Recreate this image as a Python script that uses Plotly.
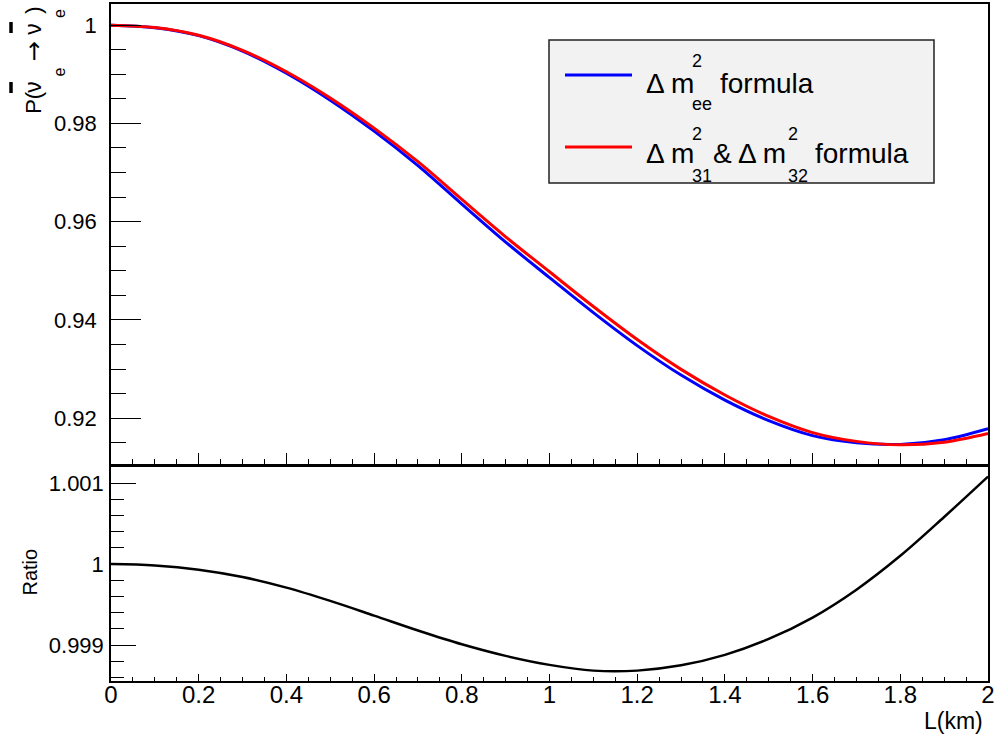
import numpy as np
import plotly.graph_objects as go

# ---------------- data ----------------
L_km = [0.0, 0.1, 0.2, 0.3, 0.4, 0.5, 0.6, 0.7, 0.8, 0.9, 1.0,
        1.1, 1.2, 1.3, 1.4, 1.5, 1.6, 1.7, 1.8, 1.9, 2.0]

P_ee_formula = [1.00000, 0.99949, 0.99786, 0.99471, 0.99023, 0.98474, 0.97843,
                0.97141, 0.96358, 0.95585, 0.94863, 0.94150, 0.93479, 0.92879,
                0.92370, 0.91953, 0.91648, 0.91501, 0.91469, 0.91566, 0.91790]

P_31_32_formula = [1.00000, 0.99951, 0.99793, 0.99487, 0.99052, 0.98519, 0.97905,
                   0.97221, 0.96453, 0.95693, 0.94981, 0.94274, 0.93602, 0.92995,
                   0.92474, 0.92038, 0.91709, 0.91530, 0.91460, 0.91513, 0.91691]

ratio = [1.000000, 0.999982, 0.999930, 0.999840, 0.999709, 0.999545, 0.999364,
         0.999180, 0.999010, 0.998867, 0.998756, 0.998685, 0.998685, 0.998750,
         0.998879, 0.999076, 0.999340, 0.999684, 1.000102, 1.000581, 1.001079]

x_ticks = [0.0, 0.2, 0.4, 0.6, 0.8, 1.0, 1.2, 1.4, 1.6, 1.8, 2.0]
x_ticktext = ["0", "0.2", "0.4", "0.6", "0.8", "1", "1.2", "1.4", "1.6", "1.8", "2"]
top_ticks = [0.92, 0.94, 0.96, 0.98, 1.0]
top_ticktext = ["0.92", "0.94", "0.96", "0.98", "1"]
bot_ticks = [0.999, 1.0, 1.001]
bot_ticktext = ["0.999", "1", "1.001"]

# ---------------- layout helpers ----------------
W, H = 994, 738
ML, MR, MT, MB = 111, 6, 4, 57
PW, PH = W - ML - MR, H - MT - MB


def px2x(px):
    return (px - ML) / PW


def px2y(py):
    return 1 - (py - MT) / PH


FONT = "Liberation Sans, Arial, Helvetica, sans-serif"

fig = go.Figure()
fig.add_trace(go.Scatter(x=L_km, y=P_ee_formula, mode="lines",
                         line=dict(color="#0000ff", width=3, shape="spline"),
                         xaxis="x", yaxis="y", name="Δm²ee formula"))
fig.add_trace(go.Scatter(x=L_km, y=P_31_32_formula, mode="lines",
                         line=dict(color="#ff0000", width=3, shape="spline"),
                         xaxis="x", yaxis="y", name="Δm²31 & Δm²32 formula"))
fig.add_trace(go.Scatter(x=L_km, y=ratio, mode="lines",
                         line=dict(color="#000000", width=2.5, shape="spline"),
                         xaxis="x2", yaxis="y2", name="Ratio"))

top_minor = [round(v, 4) for v in np.arange(0.915, 1.0041, 0.005)]
bot_minor = [round(v, 5) for v in np.arange(0.9986, 1.00121, 0.0002)]
x_minor = [round(v, 3) for v in np.arange(0.0, 2.001, 0.05)]

common_axis = dict(showline=True, linecolor="black", linewidth=1.5, mirror=True,
                   showgrid=False, zeroline=False, ticks="inside",
                   tickcolor="black", tickwidth=1, automargin=False,
                   tickfont=dict(family=FONT, size=22, color="black"))

fig.update_layout(
    width=W, height=H,
    margin=dict(l=ML, r=MR, t=MT, b=MB, autoexpand=False),
    paper_bgcolor="white", plot_bgcolor="white",
    showlegend=False,
    font=dict(family=FONT, color="black"),
    xaxis=dict(common_axis, domain=[0, 1], range=[0, 2], anchor="y",
               showticklabels=False, ticklen=12, tickmode="array",
               tickvals=x_ticks,
               minor=dict(ticks="inside", ticklen=6, tickmode="array",
                          tickvals=x_minor, tickcolor="black", tickwidth=1)),
    yaxis=dict(common_axis, domain=[0.3191, 1], range=[0.9105, 1.0043],
               anchor="x", tickmode="array", tickvals=top_ticks,
               ticktext=top_ticktext, ticklen=30, ticklabelstandoff=8,
               minor=dict(ticks="inside", ticklen=15, tickmode="array",
                          tickvals=top_minor, tickcolor="black", tickwidth=1)),
    xaxis2=dict(common_axis, domain=[0, 1], range=[0, 2], anchor="y2",
                ticklen=7, tickmode="array", tickvals=x_ticks,
                ticktext=x_ticktext, ticklabelstandoff=-9,
                ticklabeloverflow="allow",
                tickfont=dict(family=FONT, size=24, color="black"),
                minor=dict(ticks="inside", ticklen=4, tickmode="array",
                           tickvals=x_minor, tickcolor="black", tickwidth=1)),
    yaxis2=dict(common_axis, domain=[0, 0.3176], range=[0.998557, 1.00121],
                anchor="x2", tickmode="array", tickvals=bot_ticks,
                ticktext=bot_ticktext, ticklen=25, ticklabelstandoff=1,
                minor=dict(ticks="inside", ticklen=13, tickmode="array",
                           tickvals=bot_minor, tickcolor="black", tickwidth=1)),
)

annotations = []
shapes = []


def ann(text, px, py, size, xanchor="left", angle=0, family=FONT):
    annotations.append(dict(text=text, x=px2x(px), y=px2y(py), xref="paper",
                            yref="paper", showarrow=False, xanchor=xanchor,
                            yanchor="middle", textangle=angle,
                            font=dict(family=family, size=size, color="black")))


# ---- y-axis title of top panel: P(nu_e-bar -> nu_e-bar), built piecewise ----
TX = 33.3
ann("P(", TX, 102.5, 22, "center", -90)
ann("ν", TX, 86.5, 23, "center", -90)
ann("e", 59, 72.5, 16, "center", -90)
ann("→", TX + 1, 51, 24, "center", -90, "DejaVu Sans, sans-serif")
ann("ν", TX, 28.5, 23, "center", -90)
ann("e", 59, 14, 16, "center", -90)
ann(")", TX, 10.5, 22, "center", -90)
for (ya, yb) in [(82, 93), (22, 33)]:
    shapes.append(dict(type="line", xref="paper", yref="paper",
                       x0=px2x(11), x1=px2x(11), y0=px2y(ya), y1=px2y(yb),
                       line=dict(color="black", width=3.5)))

# ---- bottom panel y title ----
ann("Ratio", 29.5, 572, 20, "center", -90)

# ---- x-axis title ----
annotations.append(dict(text="L(km)", x=px2x(985), y=px2y(721), xref="paper",
                        yref="paper", showarrow=False, xanchor="right",
                        yanchor="middle",
                        font=dict(family=FONT, size=23, color="black")))

# ---- legend box ----
shapes.append(dict(type="rect", xref="paper", yref="paper",
                   x0=px2x(549), x1=px2x(934), y0=px2y(40), y1=px2y(183),
                   fillcolor="#f2f2f2", line=dict(color="#222222", width=1.5),
                   layer="above"))
shapes.append(dict(type="line", xref="paper", yref="paper",
                   x0=px2x(565), x1=px2x(632), y0=px2y(75), y1=px2y(75),
                   line=dict(color="#0000ff", width=3), layer="above"))
shapes.append(dict(type="line", xref="paper", yref="paper",
                   x0=px2x(565), x1=px2x(632), y0=px2y(147), y1=px2y(147),
                   line=dict(color="#ff0000", width=3), layer="above"))

# row 1
ann("Δ m", 644, 83.6, 28)
ann("2", 690, 60.8, 18)
ann("ee", 690, 103.8, 18)
ann("formula", 718, 83.6, 28)
# row 2
ann("Δ m", 644, 153.6, 28)
ann("2", 690, 133.8, 18)
ann("31", 690, 175.5, 18)
ann("& Δ m", 711, 153.6, 28)
ann("2", 786, 133.8, 18)
ann("32", 786, 175.5, 18)
ann("formula", 813, 153.6, 28)

fig.update_layout(annotations=annotations, shapes=shapes)

fig.write_html("out.html")
